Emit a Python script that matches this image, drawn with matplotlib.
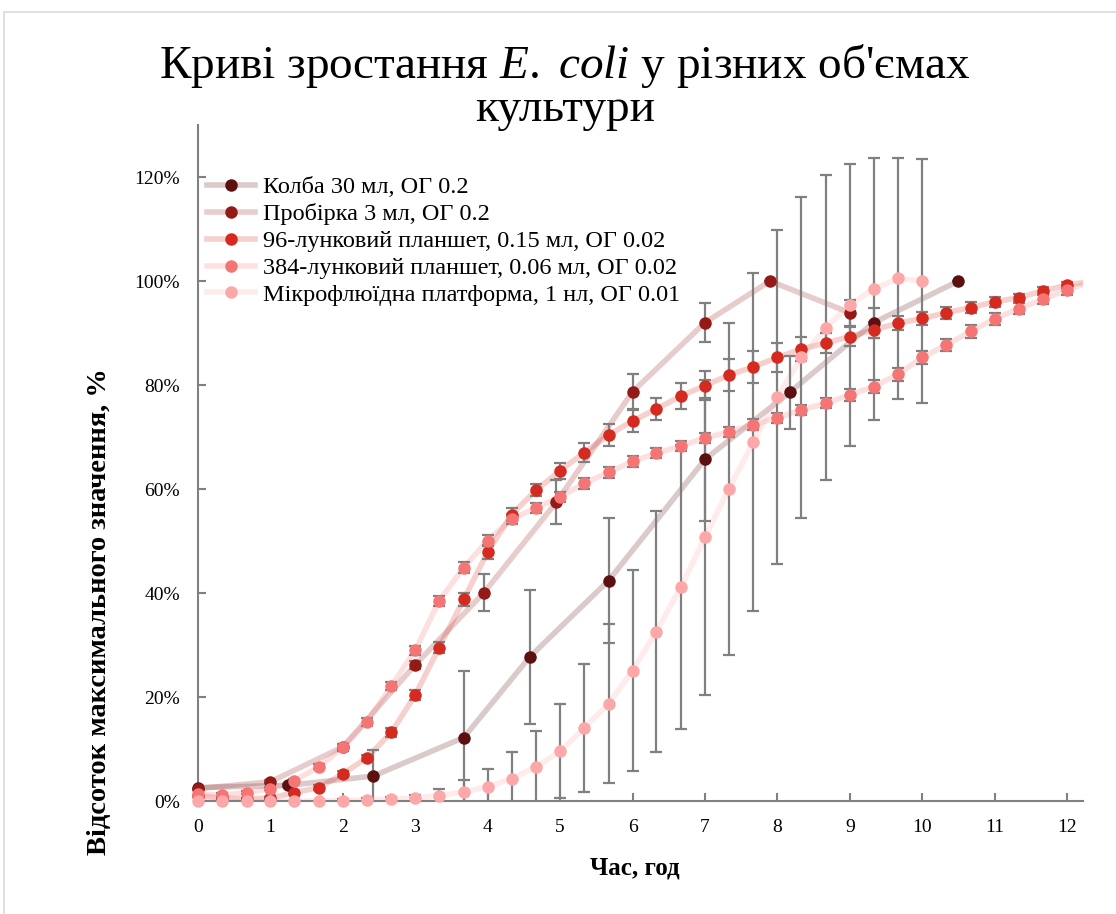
import numpy as np
import matplotlib
matplotlib.use("Agg")
import matplotlib.pyplot as plt
from matplotlib.lines import Line2D
from matplotlib.patches import Rectangle
from matplotlib.ticker import FuncFormatter

plt.rcParams["font.family"] = ["Liberation Serif", "DejaVu Serif"]
plt.rcParams["mathtext.fontset"] = "custom"
plt.rcParams["mathtext.rm"] = "Liberation Serif"
plt.rcParams["mathtext.it"] = "Liberation Serif:italic"

# дані (час, год; відсоток від максимуму; похибка)
flask_t = [0, 1.24, 2.42, 3.67, 4.58, 5.67, 7.0, 8.17, 9.33, 10.5]
flask_y = [2.6, 3.0, 4.8, 12.2, 27.7, 42.4, 65.7, 78.6, 92.0, 100.0]
flask_err = [0.3, 0.3, 5.1, 12.9, 12.8, 12.1, 11.8, 7.0, 2.9, 0.0]

tube_t = [0, 1.0, 2.0, 3.0, 3.95, 4.95, 6.0, 7.0, 7.9, 9.0]
tube_y = [2.4, 3.7, 10.4, 26.2, 40.1, 57.5, 78.7, 92.0, 100.0, 93.9]
tube_err = [0.2, 0.3, 0.5, 0.8, 3.6, 4.3, 3.5, 3.7, 0.0, 2.5]

# 96- і 384-лункові планшети: крок 20 хв
plate_t = [0, 0.33, 0.67, 1.0, 1.33, 1.67, 2.0, 2.33, 2.67, 3.0, 3.33, 3.67, 4.0,
           4.33, 4.67, 5.0, 5.33, 5.67, 6.0, 6.33, 6.67, 7.0, 7.33, 7.67, 8.0,
           8.33, 8.67, 9.0, 9.33, 9.67, 10.0, 10.33, 10.67, 11.0, 11.33, 11.67,
           12.0, 12.33]
w96_y = [1.0, 0.6, 0.4, 0.6, 1.6, 2.6, 5.2, 8.3, 13.2, 20.4, 29.5, 38.8, 47.9,
         55.1, 59.8, 63.5, 67.0, 70.4, 73.1, 75.4, 77.9, 79.9, 81.9, 83.5, 85.3,
         86.9, 88.1, 89.3, 90.6, 91.9, 92.8, 93.9, 94.9, 96.0, 96.8, 98.1, 99.2,
         100.0]
w96_err = [0.2, 0.2, 0.2, 0.2, 0.3, 0.4, 0.5, 0.6, 0.8, 1.0, 1.1, 1.3, 1.3,
           1.2, 1.1, 1.6, 1.8, 2.2, 2.2, 2.2, 2.5, 2.8, 3.1, 3.1, 2.7,
           2.3, 2.0, 1.8, 1.6, 1.4, 1.3, 1.2, 1.0, 0.9, 0.8, 0.7, 0.6, 0.5]
w384_y = [1.3, 1.15, 1.6, 2.4, 3.9, 6.6, 10.3, 15.2, 22.1, 29.0, 38.5, 44.9,
          50.1, 54.2, 56.4, 58.5, 61.1, 63.2, 65.3, 66.9, 68.3, 69.8, 71.0,
          72.4, 73.7, 75.2, 76.5, 78.1, 79.7, 82.1, 85.3, 87.7, 90.3, 92.7,
          94.7, 96.5, 98.3, 99.8]
w384_err = [0.3, 0.3, 0.3, 0.3, 0.4, 0.5, 0.6, 0.7, 0.8, 0.9, 1.0, 1.0, 1.0,
            1.0, 1.0, 1.0, 1.0, 1.0, 1.0, 1.0, 1.0, 1.0, 1.0, 1.0, 1.0,
            1.0, 1.0, 1.1, 1.2, 1.25, 1.2, 1.2, 1.2, 1.1, 1.1, 1.0, 1.0, 1.0]

micro_t = [0, 0.33, 0.67, 1.0, 1.33, 1.67, 2.0, 2.33, 2.67, 3.0, 3.33, 3.67,
           4.0, 4.33, 4.67, 5.0, 5.33, 5.67, 6.0, 6.33, 6.67, 7.0, 7.33, 7.67,
           8.0, 8.33, 8.67, 9.0, 9.33, 9.67, 10.0]
micro_y = [0, 0, 0, 0, 0, 0, 0.1, 0.2, 0.4, 0.6, 1.0, 1.8, 2.7, 4.3, 6.6, 9.6,
           14.0, 18.7, 25.1, 32.6, 41.2, 50.7, 60.0, 69.1, 77.7, 85.3, 91.0,
           95.4, 98.5, 100.5, 100.0]
micro_err = [0.1, 0.1, 0.1, 0.1, 0.1, 0.1, 0.2, 0.3, 0.4, 0.6, 1.3, 2.3, 3.4,
             5.2, 6.8, 9.0, 12.3, 15.3, 19.3, 23.2, 27.3, 30.3, 32.0, 32.5,
             32.2, 30.9, 29.3, 27.1, 25.2, 23.2, 23.5]

labels = ["Колба 30 мл, ОГ 0.2",
          "Пробірка 3 мл, ОГ 0.2",
          "96-лунковий планшет, 0.15 мл, ОГ 0.02",
          "384-лунковий планшет, 0.06 мл, ОГ 0.02",
          "Мікрофлюїдна платформа, 1 нл, ОГ 0.01"]
colors = ["#5C1010", "#941A18", "#D42A1F", "#F57575", "#FCA8A8"]

series = [(flask_t, flask_y, flask_err),
          (tube_t, tube_y, tube_err),
          (plate_t, w96_y, w96_err),
          (plate_t, w384_y, w384_err),
          (micro_t, micro_y, micro_err)]

XMAX = 12.22

fig = plt.figure(figsize=(11.16, 9.14), dpi=100)
ax = fig.add_axes([0.1774, 0.1236, 0.793, 0.7396])

handles = []
for i, ((t, y, e), c, lab) in enumerate(zip(series, colors, labels)):
    t = np.array(t)
    y = np.array(y)
    e = np.array(e)
    ax.plot(t, y, color=c, alpha=0.22, lw=4, solid_capstyle="round",
            solid_joinstyle="round", zorder=2 + i * 0.1)
    ax.errorbar(t, y, yerr=e, fmt="none", ecolor="#808080", elinewidth=1.6,
                capsize=4.5, capthick=1.6, zorder=3 + i * 0.1)
    m = t <= XMAX
    ax.plot(t[m], y[m], "o", color=c, ms=9, mew=0, clip_on=False,
            zorder=5 + i * 0.1)
    lc = tuple(0.22 * np.array(matplotlib.colors.to_rgb(c)) + 0.78)
    handles.append(Line2D([], [], color=lc, lw=4, marker="o", ms=9, mew=0,
                          mfc=c, mec=c, label=lab))

ax.set_xlim(0, XMAX)
ax.set_ylim(0, 130)
ax.set_xticks(range(0, 13))
ax.set_yticks(range(0, 121, 20))
ax.yaxis.set_major_formatter(FuncFormatter(lambda v, p: f"{int(v)}%"))

for s in ["top", "right"]:
    ax.spines[s].set_visible(False)
for s in ["left", "bottom"]:
    ax.spines[s].set_color("#808080")
    ax.spines[s].set_linewidth(1.5)
ax.tick_params(direction="in", length=6, width=1.5, color="#808080",
               labelsize=14, pad=13, labelcolor="black")

ax.legend(handles=handles, loc="upper left", bbox_to_anchor=(0.010, 0.924),
          frameon=False, fontsize=17.5, handlelength=2.0, handletextpad=0.3,
          labelspacing=0.2, borderpad=0, borderaxespad=0)

fig.text(0.506, 1 - 66 / 914, "Криві зростання $E.\\ coli$ у різних об'ємах",
         ha="center", va="center", fontsize=34)
fig.text(0.506, 1 - 110 / 914, "культури", ha="center", va="center",
         fontsize=34)
fig.text(100 / 1116, 1 - 612 / 914, "Відсоток максимального значення, %",
         rotation=90, ha="center", va="center", fontsize=20.5,
         fontweight="bold")
fig.text(635 / 1116, 1 - 868 / 914, "Час, год", ha="center", va="center",
         fontsize=18, fontweight="bold")

# рамка діаграми
fig.add_artist(Rectangle((4 / 1116, -0.1), 1.2, 0.1 + (914 - 12) / 914,
                         transform=fig.transFigure, fill=False,
                         ec="#D9D9D9", lw=1.2))

fig.savefig("out.png", dpi=100)
